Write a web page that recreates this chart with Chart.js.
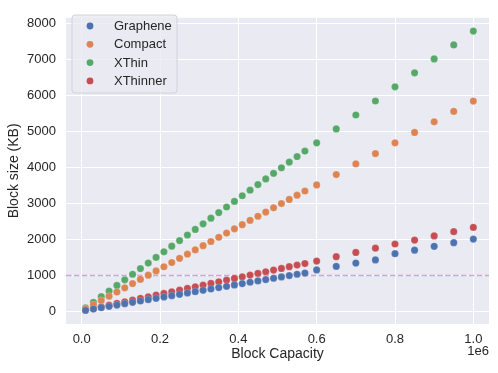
<!DOCTYPE html>
<html>
<head>
<meta charset="utf-8">
<script src="https://cdn.jsdelivr.net/npm/chart.js@4"></script>
<style>
  html,body{margin:0;padding:0;background:#fff;}
  #wrap{width:498px;height:373px;position:relative;}
</style>
</head>
<body>
<div id="wrap"><canvas id="c" width="498" height="373"></canvas></div>
<script>
// ---- data ----
const capacity = [
  10000, 30000, 50000, 70000, 90000, 110000, 130000, 150000, 170000, 190000,
  210000, 230000, 250000, 270000, 290000, 310000, 330000, 350000, 370000, 390000,
  410000, 430000, 450000, 470000, 490000, 510000, 530000, 550000, 570000,
  600000, 650000, 700000, 750000, 800000, 850000, 900000, 950000, 1000000
];
const graphene = [
  29, 66, 103, 140, 177, 215, 252, 289, 326, 363,
  401, 438, 475, 512, 549, 587, 624, 661, 698, 735,
  773, 810, 847, 884, 921, 959, 996, 1033, 1066,
  1153, 1250, 1342, 1432, 1604, 1703, 1810, 1910, 2009
];
const compact = [
  71, 188, 305, 422, 539, 656, 773, 890, 1007, 1124,
  1241, 1358, 1475, 1592, 1709, 1826, 1943, 2060, 2177, 2294,
  2411, 2528, 2645, 2762, 2879, 2996, 3113, 3230, 3347,
  3514, 3802, 4100, 4387, 4685, 4973, 5270, 5559, 5846
];
const xthin = [
  98, 254, 410, 565, 721, 877, 1033, 1189, 1344, 1500,
  1656, 1812, 1968, 2123, 2279, 2435, 2591, 2747, 2902, 3058,
  3214, 3370, 3526, 3681, 3837, 3993, 4149, 4305, 4455,
  4684, 5072, 5459, 5847, 6243, 6631, 7018, 7405, 7792
];
const xthinner = [
  35, 82, 128, 174, 221, 267, 314, 360, 406, 453,
  499, 546, 592, 638, 685, 731, 778, 824, 870, 917,
  963, 1010, 1056, 1102, 1149, 1195, 1242, 1288, 1330,
  1398, 1522, 1640, 1757, 1874, 1982, 2099, 2216, 2333
];
const seriesNames = ['Graphene', 'Compact', 'XThin', 'XThinner'];
const xTicks = [0, 200000, 400000, 600000, 800000, 1000000];
const yTicks = [0, 1000, 2000, 3000, 4000, 5000, 6000, 7000, 8000];
const threshold = 1000;

// ---- styling ----
const colors = ['#4c72b0', '#dd8452', '#55a868', '#c44e52'];
const seriesValues = [graphene, compact, xthin, xthinner];
const FONT = '"Liberation Sans", Arial, "DejaVu Sans", sans-serif';
const TEXT = '#262626';

const datasets = seriesNames.map((name, i) => ({
  label: name,
  data: capacity.map((x, k) => ({x: x, y: seriesValues[i][k]})),
  backgroundColor: colors[i],
  borderColor: 'rgba(255,255,255,0.35)',
  borderWidth: 0.5,
  pointRadius: 3.6,
  pointHoverRadius: 3.6
}));

const bgPlugin = {
  id: 'bg',
  beforeDraw(chart) {
    const {ctx, chartArea: a} = chart;
    ctx.save();
    ctx.fillStyle = '#eaeaf2';
    ctx.fillRect(a.left, a.top, a.right - a.left, a.bottom - a.top);
    ctx.restore();
  },
  beforeDatasetsDraw(chart) {
    const {ctx, chartArea: a, scales} = chart;
    const y = Math.round(scales.y.getPixelForValue(threshold)) + 0.5;
    ctx.save();
    ctx.strokeStyle = '#e49bd2';
    ctx.lineWidth = 1.6;
    ctx.setLineDash([5.5, 2.4]);
    ctx.beginPath();
    ctx.moveTo(a.left, y);
    ctx.lineTo(a.right, y);
    ctx.stroke();
    ctx.restore();
  },
  afterDraw(chart) {
    const {ctx, chartArea: a} = chart;
    ctx.save();
    // offset text
    ctx.fillStyle = TEXT;
    ctx.font = '13px ' + FONT;
    ctx.textAlign = 'right';
    ctx.textBaseline = 'middle';
    ctx.fillText('1e6', a.right, 351);
    // legend
    const lx = 72, ly = 15, lw = 105, lh = 78, r = 3;
    ctx.beginPath();
    ctx.moveTo(lx + r, ly);
    ctx.arcTo(lx + lw, ly, lx + lw, ly + lh, r);
    ctx.arcTo(lx + lw, ly + lh, lx, ly + lh, r);
    ctx.arcTo(lx, ly + lh, lx, ly, r);
    ctx.arcTo(lx, ly, lx + lw, ly, r);
    ctx.closePath();
    ctx.fillStyle = 'rgba(234,234,242,0.8)';
    ctx.fill();
    ctx.strokeStyle = '#d2d2dc';
    ctx.lineWidth = 1;
    ctx.stroke();
    chart.data.datasets.forEach((ds, i) => {
      const cy = 26 + i * 18.3;
      ctx.beginPath();
      ctx.arc(90, cy, 3.4, 0, Math.PI * 2);
      ctx.fillStyle = ds.backgroundColor;
      ctx.fill();
      ctx.fillStyle = TEXT;
      ctx.textAlign = 'left';
      ctx.textBaseline = 'middle';
      ctx.font = '13px ' + FONT;
      ctx.fillText(ds.label, 114, cy + 0.5);
    });
    ctx.restore();
  }
};

new Chart(document.getElementById('c'), {
  type: 'scatter',
  data: {datasets: datasets},
  plugins: [bgPlugin],
  options: {
    responsive: false,
    animation: false,
    devicePixelRatio: 1,
    layout: {padding: {top: 9, right: 9, left: 0, bottom: 0}},
    plugins: {legend: {display: false}, tooltip: {enabled: false}},
    scales: {
      x: {
        type: 'linear',
        min: -40000,
        max: 1040000,
        afterBuildTicks(s) { s.ticks = xTicks.map(v => ({value: v})); },
        afterFit(s) { s.height = 49; },
        border: {display: false},
        grid: {color: '#ffffff', lineWidth: 1, drawTicks: false},
        ticks: {
          padding: 8,
          color: TEXT,
          font: {family: FONT, size: 13},
          callback: v => (v / 1e6).toFixed(1)
        },
        title: {
          display: true, text: 'Block Capacity', color: TEXT,
          font: {family: FONT, size: 14}, padding: {top: 0, bottom: 10}
        }
      },
      y: {
        type: 'linear',
        min: -350,
        max: 8160,
        afterBuildTicks(s) { s.ticks = yTicks.map(v => ({value: v})); },
        afterFit(s) { s.width = 66; },
        border: {display: false},
        grid: {color: '#ffffff', lineWidth: 1, drawTicks: false},
        ticks: {
          padding: 10,
          color: TEXT,
          font: {family: FONT, size: 13},
          callback: v => String(v)
        },
        title: {
          display: true, text: 'Block size (KB)', color: TEXT,
          font: {family: FONT, size: 14}, padding: {top: 6, bottom: 0}
        }
      }
    }
  }
});
</script>
</body>
</html>
